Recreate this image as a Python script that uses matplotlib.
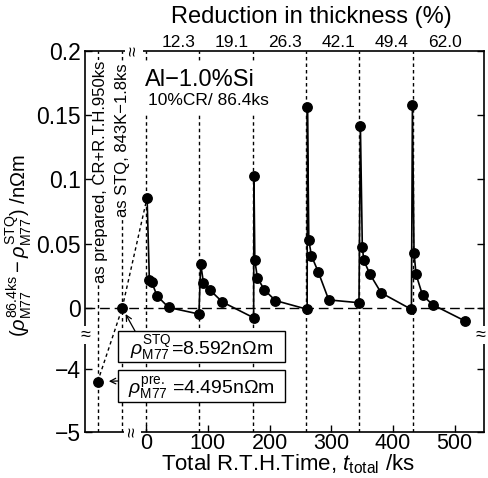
import numpy as np
import matplotlib
matplotlib.use('Agg')
import matplotlib.pyplot as plt
import matplotlib.transforms as mtransforms
from matplotlib.patches import Rectangle

plt.rcParams['font.family'] = ['Liberation Sans', 'DejaVu Sans']
plt.rcParams['mathtext.fontset'] = 'custom'
plt.rcParams['mathtext.rm'] = 'Liberation Sans'
plt.rcParams['mathtext.it'] = 'Liberation Sans:italic'
plt.rcParams['mathtext.bf'] = 'Liberation Sans:bold'

# ---------------- data ----------------
t_total = [1.6, 5.3, 9.0, 17.8, 36.6, 85.6,
           88.5, 92.9, 103.7, 123.5, 174.3,
           174.8, 176.2, 180.4, 191.6, 209.5, 261.0,
           261.4, 263.7, 267.9, 278.9, 296.0, 345.0,
           347.3, 350.4, 352.8, 362.9, 380.9, 430.0,
           431.6, 434.2, 437.5, 448.1, 464.7, 516.4]
d_rho = [0.0859, 0.0216, 0.0203, 0.0094, 0.0004, -0.0047,
         0.0343, 0.0198, 0.0139, 0.0047, -0.0076,
         0.1025, 0.0371, 0.0235, 0.0142, 0.0058, -0.0010,
         0.1567, 0.0529, 0.0407, 0.0282, 0.0063, 0.0041,
         0.1419, 0.0477, 0.0370, 0.0262, 0.0118, -0.0011,
         0.1577, 0.0430, 0.0261, 0.0098, 0.0025, -0.0100]

special_labels = ['as prepared, CR+R.T.H.950ks', 'as STQ, 843K\u22121.8ks']
special_x = [-78.4, -38.7]
special_y = [-4.2, 0.0]

roll_times = [0.0, 86.4, 172.8, 259.2, 345.6, 432.0]
reduction = ['12.3', '19.1', '26.3', '42.1', '49.4', '62.0']

xticks = [0, 100, 200, 300, 400, 500]
yticks = [-5, -4, 0, 0.05, 0.1, 0.15, 0.2]
ytick_labels = ['\u22125', '\u22124', '0', '0.05', '0.1', '0.15', '0.2']

box_texts = [r'$\rho^{\rm STQ}_{\rm M77}$=8.592n$\Omega$m',
             r'$\rho^{\rm pre.}_{\rm M77}$ =4.495n$\Omega$m']

# ---------------- broken y scale ----------------
S_LOW = 0.04903
C_LOW = -0.04747
def f_low(y):
    return C_LOW + (y + 4.0) * S_LOW
YB_LO, YB_HI = -3.5, -0.02
XP = [-100.0, YB_LO, YB_HI, 100.0]
FP = [f_low(-100.0), f_low(YB_LO), YB_HI, 100.0]
def fwd(y):
    return np.interp(np.asarray(y, dtype=float), XP, FP)
def inv(u):
    return np.interp(np.asarray(u, dtype=float), FP, XP)

W, H = 488, 478
fig = plt.figure(figsize=(W / 100, H / 100), dpi=100)
ax = fig.add_axes([85 / W, 46 / H, 399 / W, 381 / H])
ax.set_yscale('function', functions=(fwd, inv))
ax.set_xlim(-99, 547.6)
ax.set_ylim(-5, 0.2)

DOT = (0, (2.5, 2.2))
# reference lines
ax.axhline(0, color='k', lw=1.0, ls=(0, (7, 3.5)), zorder=2)
for x in list(special_x) + list(roll_times):
    ax.axvline(x, color='k', lw=1.0, ls=DOT, zorder=1)

# dotted connections
ax.plot([special_x[0], special_x[1]], [special_y[0], special_y[1]],
        color='k', lw=1.0, ls=DOT, zorder=2)
ax.plot([special_x[1], t_total[0]], [special_y[1], d_rho[0]],
        color='k', lw=1.0, ls=DOT, zorder=2)

# data
ax.plot(t_total, d_rho, color='k', lw=1.2, marker='o', ms=6.8, zorder=5)
ax.plot(special_x, special_y, color='k', ls='none', marker='o', ms=6.8, zorder=5)

# rotated labels on the special lines
blend = mtransforms.blended_transform_factory(ax.transData, ax.transAxes)
ax.text(-74, 0.682, special_labels[0], rotation=90, ha='center', va='center',
        fontsize=12, transform=blend, zorder=3,
        bbox=dict(facecolor='white', edgecolor='none', pad=0.5))
ax.text(-37.6, 0.766, special_labels[1], rotation=90, ha='center', va='center',
        fontsize=12, transform=blend, zorder=3,
        bbox=dict(facecolor='white', edgecolor='none', pad=0.5))

# boxes
box_x0, box_w = 33 / 399, 167 / 399
for (y0, h), txt in zip([(70 / 381, 31 / 381), (30 / 381, 32 / 381)], box_texts):
    ax.add_patch(Rectangle((box_x0, y0), box_w, h, transform=ax.transAxes,
                           facecolor='white', edgecolor='k', lw=1.0, zorder=6))
    ax.text(box_x0 + box_w / 2, y0 + h / 2 - 0.005, txt, transform=ax.transAxes,
            ha='center', va='center', fontsize=14, zorder=7)

ax.annotate('', xy=(special_x[1], special_y[1]), xycoords='data',
            xytext=(50 / 399, 101 / 381), textcoords='axes fraction',
            arrowprops=dict(arrowstyle='->', lw=0.9, color='k', shrinkA=0, shrinkB=5),
            zorder=6)
ax.annotate('', xy=(special_x[0], special_y[0]), xycoords='data',
            xytext=(33 / 399, 51 / 381), textcoords='axes fraction',
            arrowprops=dict(arrowstyle='->', lw=0.9, color='k', shrinkA=0, shrinkB=8),
            zorder=6)

# inner texts (white backing hides the dotted lines behind them)
ax.add_patch(Rectangle((0.145, 0.838), 0.33, 0.13, transform=ax.transAxes,
                       facecolor='white', edgecolor='none', zorder=3))
ax.text(0.150, 0.924, 'Al\u22121.0%Si', transform=ax.transAxes, fontsize=17,
        ha='left', va='center', zorder=4)
ax.text(0.158, 0.869, '10%CR/ 86.4ks', transform=ax.transAxes, fontsize=12.5,
        ha='left', va='center', zorder=4)

# top reduction labels
for rt, lab in zip(roll_times, reduction):
    ax.text(rt + 52, 1.022, lab, transform=blend, ha='center', va='center',
            fontsize=12.5)
fig.text(311 / W, 1 - 17 / H, 'Reduction in thickness (%)', ha='center',
         va='center', fontsize=17)

# ticks
ax.set_xticks(xticks)
ax.set_xticklabels([str(v) for v in xticks])
ax.set_yticks(yticks)
ax.set_yticklabels(ytick_labels)
ax.tick_params(axis='both', direction='in', length=5, width=1.0,
               right=True, top=False)
ax.tick_params(axis='y', pad=3, labelsize=16.5)
ax.tick_params(axis='x', pad=1.0, labelsize=15.5)
ax.minorticks_off()
for sp in ax.spines.values():
    sp.set_linewidth(1.2)

# break marks
bkw = dict(ha='center', va='center', fontsize=13, zorder=8,
           bbox=dict(facecolor='white', edgecolor='none', pad=0.3))
ax.text(0.0, 0.2546, '\u2248', transform=ax.transAxes, **bkw)
ax.text(0.992, 0.2546, '\u2248', transform=ax.transAxes, **bkw)
ax.text(-20, 1.0, '\u2248', transform=blend, rotation=90, **bkw)
ax.text(-22, 0.0, '\u2248', transform=blend, rotation=90, **bkw)

# axis labels
fig.text(288 / W, 1 - 470 / H, r'Total R.T.H.Time, $t_{\rm total}$ /ks',
         ha='center', va='baseline', fontsize=16)
fig.text(19 / W, 1 - 245 / H,
         r'$(\rho^{86.4\rm ks}_{\rm M77} - \rho^{\rm STQ}_{\rm M77})$ /n$\Omega$m',
         rotation=90, ha='center', va='center', fontsize=14.5)

fig.savefig('out.png', dpi=100)
